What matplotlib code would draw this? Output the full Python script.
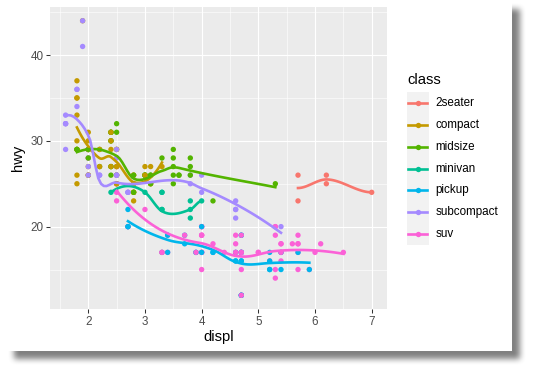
import numpy as np
import matplotlib
matplotlib.use('Agg')
import matplotlib.pyplot as plt
from matplotlib.patches import Rectangle

plt.rcParams['font.family'] = 'Liberation Sans'

# nhóm xe và màu mặc định kiểu ggplot
classes = ['2seater', 'compact', 'midsize', 'minivan', 'pickup', 'subcompact', 'suv']
colors = ['#F8766D', '#C49A00', '#53B400', '#00C094', '#00B6EB', '#A58AFF', '#FB61D7']

# dung tích động cơ (displ), theo thứ tự dòng dữ liệu
displ = [
    1.8, 1.8, 2.0, 2.0, 2.8, 2.8, 3.1,                      # a4
    1.8, 1.8, 2.0, 2.0, 2.8, 2.8, 3.1, 3.1,                 # a4 quattro
    2.8, 3.1, 4.2,                                          # a6 quattro
    5.3, 5.3, 5.3, 5.7, 6.0,                                # c1500 suburban
    5.7, 5.7, 6.2, 6.2, 7.0,                                # corvette
    5.3, 5.3, 5.7, 6.5,                                     # k1500 tahoe
    2.4, 2.4, 3.1, 3.5, 3.6,                                # malibu
    2.4, 3.0, 3.3, 3.3, 3.3, 3.3, 3.3, 3.8, 3.8, 3.8, 4.0,  # caravan
    3.7, 3.7, 3.9, 3.9, 4.7, 4.7, 4.7, 5.2, 5.2,            # dakota
    3.9, 4.7, 4.7, 4.7, 5.2, 5.7, 5.9,                      # durango
    4.7, 4.7, 4.7, 4.7, 4.7, 4.7, 5.2, 5.2, 5.7, 5.9,       # ram 1500
    4.6, 5.4, 5.4,                                          # expedition
    4.0, 4.0, 4.0, 4.0, 4.6, 5.0,                           # explorer
    4.2, 4.2, 4.6, 4.6, 4.6, 5.4, 5.4,                      # f150
    3.8, 3.8, 4.0, 4.0, 4.6, 4.6, 4.6, 4.6, 5.4,            # mustang
    1.6, 1.6, 1.6, 1.6, 1.6, 1.8, 1.8, 1.8, 2.0,            # civic
    2.4, 2.4, 2.4, 2.4, 2.5, 2.5, 3.3,                      # sonata
    2.0, 2.0, 2.0, 2.0, 2.7, 2.7, 2.7,                      # tiburon
    3.0, 3.7, 4.0, 4.7, 4.7, 4.7, 5.7, 6.1,                 # grand cherokee
    4.0, 4.2, 4.4, 4.6,                                     # range rover
    5.4, 5.4, 5.4,                                          # navigator
    4.0, 4.0, 4.6, 5.0,                                     # mountaineer
    2.4, 2.4, 2.5, 2.5, 3.5, 3.5,                           # altima
    3.0, 3.0, 3.5,                                          # maxima
    3.3, 3.3, 4.0, 5.6,                                     # pathfinder
    3.1, 3.8, 3.8, 3.8, 5.3,                                # grand prix
    2.5, 2.5, 2.5, 2.5, 2.5, 2.5,                           # forester
    2.2, 2.2, 2.5, 2.5, 2.5, 2.5, 2.5, 2.5,                 # impreza
    2.7, 2.7, 3.4, 3.4, 4.0, 4.7,                           # 4runner
    2.2, 2.2, 2.4, 2.4, 3.0, 3.0, 3.5,                      # camry
    2.2, 2.2, 2.4, 2.4, 3.0, 3.0, 3.3,                      # camry solara
    1.8, 1.8, 1.8, 1.8, 1.8,                                # corolla
    4.7, 5.7,                                               # land cruiser
    2.7, 2.7, 2.7, 3.4, 3.4, 4.0, 4.0,                      # tacoma
    2.0, 2.0, 2.0, 2.0, 2.8,                                # gti
    1.9, 2.0, 2.0, 2.0, 2.0, 2.5, 2.5, 2.8, 2.8,            # jetta
    1.9, 1.9, 2.0, 2.0, 2.5, 2.5,                           # new beetle
    1.8, 1.8, 2.0, 2.0, 2.8, 2.8, 3.6,                      # passat
]

# mức tiêu hao trên cao tốc (hwy)
hwy = [
    29, 29, 31, 30, 26, 26, 27,
    26, 25, 28, 27, 25, 25, 25, 25,
    24, 25, 23,
    20, 15, 20, 17, 17,
    26, 23, 26, 25, 24,
    19, 14, 15, 17,
    27, 30, 26, 29, 26,
    24, 24, 22, 22, 24, 24, 17, 22, 21, 23, 23,
    19, 18, 17, 17, 19, 19, 12, 17, 15,
    17, 17, 12, 17, 16, 18, 15,
    16, 12, 17, 17, 16, 12, 15, 16, 17, 15,
    17, 17, 18,
    17, 19, 17, 19, 19, 17,
    17, 17, 16, 16, 17, 15, 17,
    26, 25, 26, 24, 21, 22, 23, 22, 20,
    33, 32, 32, 29, 32, 34, 36, 36, 29,
    26, 27, 30, 31, 26, 26, 28,
    26, 29, 28, 27, 24, 24, 24,
    22, 19, 20, 17, 12, 19, 19, 18,
    15, 18, 17, 18,
    17, 16, 18,
    19, 17, 17, 17,
    29, 27, 31, 32, 27, 26,
    26, 26, 25,
    17, 17, 20, 18,
    26, 27, 26, 28, 25,
    25, 24, 27, 25, 26, 23,
    26, 26, 26, 26, 27, 25, 27, 25,
    20, 20, 19, 17, 20, 17,
    29, 27, 31, 31, 26, 26, 28,
    27, 29, 31, 30, 26, 27, 27,
    30, 33, 35, 37, 35,
    15, 18,
    20, 20, 22, 17, 19, 17, 20,
    29, 26, 29, 29, 24,
    44, 29, 26, 29, 29, 29, 29, 23, 24,
    44, 41, 29, 26, 28, 29,
    29, 29, 28, 29, 24, 26, 26,
]

# chỉ số nhóm xe của từng dòng
car_class = ([1] * 7 + [1] * 8 + [2] * 3 + [6] * 5 + [0] * 5 + [6] * 4 + [2] * 5
             + [3] * 11 + [4] * 9 + [6] * 7 + [4] * 10 + [6] * 3 + [6] * 6 + [4] * 7
             + [5] * 9 + [5] * 9 + [2] * 7 + [5] * 7 + [6] * 8 + [6] * 4 + [6] * 3
             + [6] * 4 + [1, 1, 2, 2, 2, 2] + [2] * 3 + [6] * 4 + [2] * 5 + [6] * 6
             + [5, 5, 5, 5, 1, 1, 1, 1] + [6] * 6 + [2] * 7 + [1] * 7 + [1] * 5
             + [6] * 2 + [4] * 7 + [1] * 5 + [1] * 9 + [5] * 6 + [2] * 7)


# hồi quy cục bộ bậc 2 tại x0, trả về giá trị và độ dốc
def local_fit(xs, ys, x0, q):
    d = np.abs(xs - x0)
    rho = np.sort(d)[q - 1]
    w = np.where(d < rho, (1 - (d / rho) ** 3) ** 3, 0.0)
    dx = xs - x0
    X = np.column_stack([np.ones_like(dx), dx, dx ** 2]) * np.sqrt(w)[:, None]
    b = ys * np.sqrt(w)
    nrm = np.linalg.norm(X, axis=0)
    nrm[nrm == 0] = 1
    beta = np.linalg.lstsq(X / nrm, b, rcond=1e-10)[0] / nrm
    return beta[0], beta[1]


# loess kiểu R: tính tại các đỉnh kd-tree rồi nội suy Hermite
def loess(xs, ys, span=0.75, cell=0.2, n_out=80):
    order = np.argsort(xs, kind='stable')
    xs = np.asarray(xs, float)[order]
    ys = np.asarray(ys, float)[order]
    n = len(xs)
    q = int(np.floor(n * span))
    fc = int(np.floor(n * span * cell))
    mu = 0.005 * (xs[-1] - xs[0])
    verts = {xs[0] - mu, xs[-1] + mu}

    def split(l, u, vlo, vhi):
        if u - l + 1 <= fc:
            return
        m = (l + u) // 2
        off = 0
        while l <= m + off < u:
            if xs[m + off] == xs[m + off + 1]:
                off = -off
                if off >= 0:
                    off += 1
            else:
                m = m + off
                break
        v = xs[m]
        if v == vlo or v == vhi:
            return
        verts.add(v)
        split(l, m, vlo, v)
        split(m + 1, u, v, vhi)

    split(0, n - 1, xs[0] - mu, xs[-1] + mu)
    vs = np.array(sorted(verts))
    vals = np.array([local_fit(xs, ys, v, q) for v in vs])
    grid = np.linspace(xs[0], xs[-1], n_out)
    out = []
    for z in grid:
        i = min(np.searchsorted(vs, z, side='right') - 1, len(vs) - 2)
        h = vs[i + 1] - vs[i]
        t = (z - vs[i]) / h
        g0, s0 = vals[i]
        g1, s1 = vals[i + 1]
        out.append((1 - t) ** 2 * (1 + 2 * t) * g0 + t ** 2 * (3 - 2 * t) * g1
                   + (t * (1 - t) ** 2 * s0 - t ** 2 * (1 - t) * s1) * h)
    return grid, np.array(out)


W, H = 536, 371
fig = plt.figure(figsize=(W / 100, H / 100), dpi=100)


def px_box(x0, y0, x1, y1):
    return [x0 / W, 1 - y1 / H, (x1 - x0) / W, (y1 - y0) / H]


# bóng đổ và tấm nền trắng
mask = np.zeros((H, W))
mask[9:359, 14:520] = 1.0
k = np.ones(7) / 7
for _ in range(2):
    mask = np.apply_along_axis(lambda r: np.convolve(r, k, mode='same'), 0, mask)
    mask = np.apply_along_axis(lambda r: np.convolve(r, k, mode='same'), 1, mask)
shadow = np.zeros((H, W, 4))
shadow[..., 3] = 0.5 * mask
fig.figimage(shadow, 0, 0, zorder=-3, origin='upper')
fig.add_artist(Rectangle((0, 1 - 351 / H), 512 / W, 351 / H, transform=fig.transFigure,
                         facecolor='white', edgecolor='none', zorder=-2))

# vùng vẽ chính
ax = fig.add_axes(px_box(50.3, 7, 387, 309))
ax.set_facecolor('#EBEBEB')
ax.set_xlim(1.33, 7.27)
ax.set_ylim(10.4, 45.6)
ax.set_xticks([2, 3, 4, 5, 6, 7])
ax.set_xticks(np.arange(1.5, 7.3, 1.0), minor=True)
ax.set_yticks([20, 30, 40])
ax.set_yticks([15, 25, 35, 45], minor=True)
ax.grid(which='major', color='white', lw=0.8)
ax.grid(which='minor', color='white', lw=0.4)
ax.set_axisbelow(True)
for s in ax.spines.values():
    s.set_visible(False)
ax.tick_params(which='major', length=2.7, width=0.75, color='#333333',
               labelcolor='#4D4D4D', labelsize=8.4, pad=2.1)
ax.tick_params(which='minor', length=0)

pt_colors = [colors[i] for i in car_class]
ax.scatter(displ, hwy, c=pt_colors, s=15, linewidths=0, zorder=2)

dx_arr = np.array(displ)
hw_arr = np.array(hwy)
cl_arr = np.array(car_class)
for i, name in enumerate(classes):
    sel = cl_arr == i
    gx, gy = loess(dx_arr[sel], hw_arr[sel])
    ax.plot(gx, gy, color=colors[i], lw=1.9, zorder=3)

fig.text(218.6 / W, 1 - 337 / H, 'displ', ha='center', va='center', fontsize=10.6)
fig.text(18 / W, 1 - 158 / H, 'hwy', ha='center', va='center', fontsize=10.6, rotation=90)

# chú giải
lax = fig.add_axes(px_box(395, 60, 512, 260))
lax.set_xlim(395, 512)
lax.set_ylim(260, 60)
lax.axis('off')
lax.text(407, 80, 'class', va='center', ha='left', fontsize=10.6)
lax.add_patch(Rectangle((406.7, 92.3), 22.6, 152.6, facecolor='#F2F2F2', edgecolor='none'))
for i, name in enumerate(classes):
    yc = 103.2 + 21.8 * i
    lax.plot([408.5, 427.5], [yc, yc], color=colors[i], lw=1.9)
    lax.scatter([418], [yc], color=colors[i], s=15, linewidths=0, zorder=3)
    lax.text(435.7, yc, name, va='center', ha='left', fontsize=8.4)

fig.savefig('out.png', dpi=100, facecolor='white')
